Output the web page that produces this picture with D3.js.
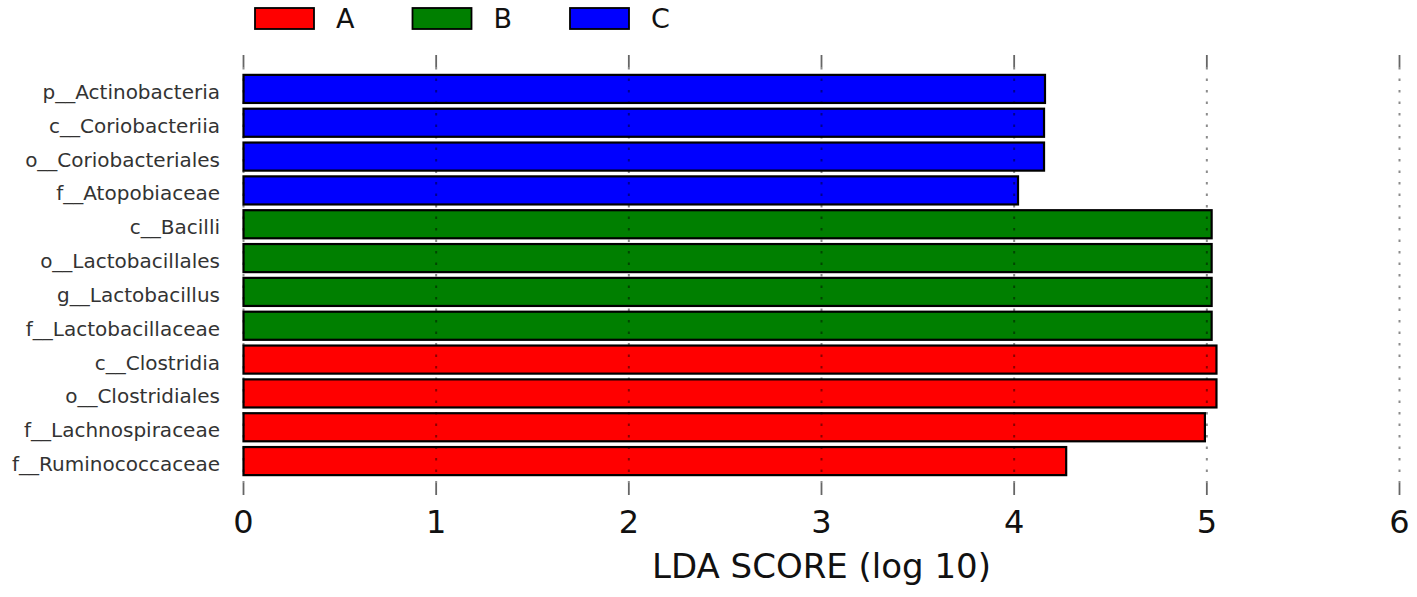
<!DOCTYPE html>
<html>
<head>
<meta charset="utf-8">
<script src="https://cdn.jsdelivr.net/npm/d3@7"></script>
<style>
  body { margin: 0; background: #fff; }
  svg { display: block; font-family: "DejaVu Sans", sans-serif; }
</style>
</head>
<body>
<svg id="viz"></svg>
<script>
// --- Data (top to bottom) ---
const taxa = [
  "p__Actinobacteria", "c__Coriobacteriia", "o__Coriobacteriales", "f__Atopobiaceae",
  "c__Bacilli", "o__Lactobacillales", "g__Lactobacillus", "f__Lactobacillaceae",
  "c__Clostridia", "o__Clostridiales", "f__Lachnospiraceae", "f__Ruminococcaceae"
];
const ldaScores = [4.16, 4.155, 4.155, 4.02, 5.025, 5.025, 5.025, 5.025, 5.05, 5.05, 4.99, 4.27];
const groupOf = ["C", "C", "C", "C", "B", "B", "B", "B", "A", "A", "A", "A"];
const groups = ["A", "B", "C"];
const groupColors = ["#ff0000", "#007f00", "#0000ff"];
const xTicks = [0, 1, 2, 3, 4, 5, 6];

const width = 1417;
const height = 597;

const svg = d3.select("#viz")
  .attr("width", width)
  .attr("height", height);

const rows = taxa.map((name, i) => ({ name, value: ldaScores[i], group: groupOf[i] }));

const x = d3.scaleLinear().domain([0, 6]).range([243.5, 1399.5]);
const y = d3.scaleBand().domain(taxa).range([72, 478])
  .paddingInner(0.17).paddingOuter(0.085);
const color = d3.scaleOrdinal().domain(groups).range(groupColors);

const frameTop = 55, frameBottom = 495, tickLen = 12;

// --- Bars ---
svg.append("g")
  .selectAll("rect")
  .data(rows)
  .join("rect")
  .attr("x", x(0))
  .attr("y", d => y(d.name))
  .attr("width", d => x(d.value) - x(0))
  .attr("height", y.bandwidth())
  .attr("fill", d => color(d.group))
  .attr("stroke", "#000")
  .attr("stroke-width", 2.2);

// --- Dotted grid over bars ---
svg.append("g")
  .selectAll("line")
  .data(xTicks)
  .join("line")
  .attr("x1", d => x(d)).attr("x2", d => x(d))
  .attr("y1", frameTop + tickLen).attr("y2", frameBottom - tickLen)
  .attr("stroke", "#000")
  .attr("stroke-opacity", 0.45)
  .attr("stroke-width", 2)
  .attr("stroke-dasharray", "2.5,9");

// --- Inward ticks top and bottom ---
const ticks = svg.append("g").attr("stroke", "#666").attr("stroke-width", 1.8);
ticks.selectAll(".top").data(xTicks).join("line")
  .attr("class", "top")
  .attr("x1", d => x(d)).attr("x2", d => x(d))
  .attr("y1", frameTop).attr("y2", frameTop + tickLen);
ticks.selectAll(".bot").data(xTicks).join("line")
  .attr("class", "bot")
  .attr("x1", d => x(d)).attr("x2", d => x(d))
  .attr("y1", frameBottom - tickLen).attr("y2", frameBottom);

// --- Tick labels ---
svg.append("g")
  .selectAll("text")
  .data(xTicks)
  .join("text")
  .attr("x", d => x(d))
  .attr("y", 533)
  .attr("text-anchor", "middle")
  .attr("font-size", 32)
  .attr("fill", "#111")
  .text(d => d);

// --- Axis title ---
svg.append("text")
  .attr("x", (x(0) + x(6)) / 2)
  .attr("y", 578)
  .attr("text-anchor", "middle")
  .attr("font-size", 34)
  .attr("fill", "#111")
  .text("LDA SCORE (log 10)");

// --- Taxon labels ---
svg.append("g")
  .selectAll("text")
  .data(rows)
  .join("text")
  .attr("x", 220)
  .attr("y", d => y(d.name) + y.bandwidth() / 2)
  .attr("dy", "0.5em")
  .attr("text-anchor", "end")
  .attr("font-size", 20)
  .attr("fill", "#333")
  .text(d => d.name);

// --- Legend ---
const legend = svg.append("g")
  .selectAll("g")
  .data(groups)
  .join("g")
  .attr("transform", (d, i) => `translate(${255 + i * 157.5},8)`);

legend.append("rect")
  .attr("width", 59)
  .attr("height", 21)
  .attr("fill", d => color(d))
  .attr("stroke", "#000")
  .attr("stroke-width", 1.8);

legend.append("text")
  .attr("x", 81)
  .attr("y", 20)
  .attr("font-size", 27)
  .attr("fill", "#111")
  .text(d => d);
</script>
</body>
</html>
